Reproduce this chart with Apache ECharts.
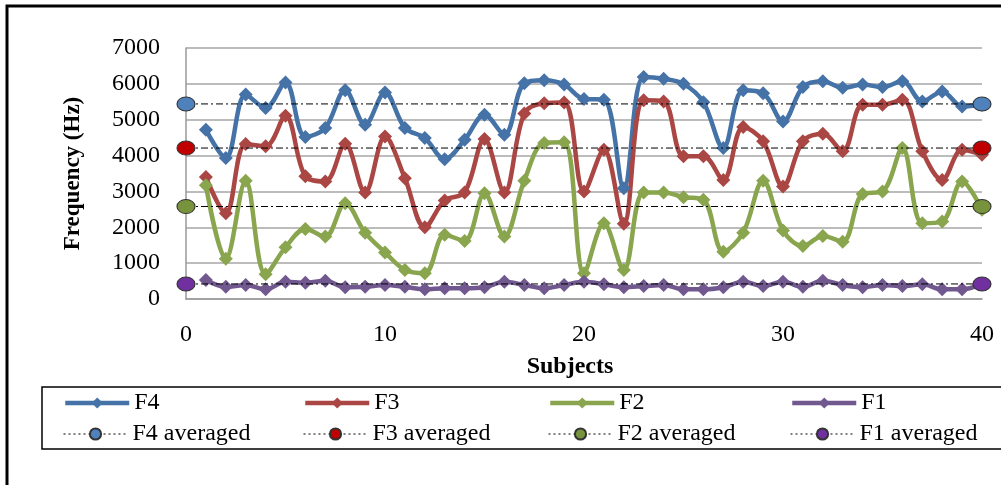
<!DOCTYPE html>
<html>
<head>
<meta charset="utf-8">
<script src="https://cdn.jsdelivr.net/npm/echarts@6/dist/echarts.min.js"></script>
<style>
html,body{margin:0;padding:0;background:#fff;}
#chart{width:1001px;height:485px;}
</style>
</head>
<body>
<div id="chart"></div>
<script>
var subjects = [1,2,3,4,5,6,7,8,9,10,11,12,13,14,15,16,17,18,19,20,21,22,23,24,25,26,27,28,29,30,31,32,33,34,35,36,37,38,39,40];
var f4 = [4720,3930,5700,5330,6040,4520,4770,5820,4860,5760,4770,4490,3900,4440,5140,4580,6020,6100,5980,5580,5560,3090,6190,6140,6000,5490,4210,5820,5740,4950,5910,6070,5890,5980,5910,6070,5510,5790,5370,5420];
var f3 = [3400,2390,4320,4260,5110,3420,3280,4330,2970,4530,3370,2000,2750,2970,4460,2970,5170,5460,5480,3000,4160,2100,5540,5510,3980,3980,3320,4800,4400,3140,4400,4610,4120,5420,5420,5560,4120,3320,4160,4020];
var f2 = [3170,1120,3300,690,1440,1950,1740,2670,1850,1300,810,720,1790,1620,2950,1740,3300,4350,4370,720,2110,810,2970,2970,2840,2770,1320,1850,3300,1910,1480,1760,1600,2930,3000,4210,2110,2160,3280,2490];
var f1 = [530,340,390,270,480,450,510,330,340,390,340,270,300,300,330,480,390,300,390,480,410,330,360,390,270,270,330,480,360,480,340,510,390,330,390,360,410,270,270,420];
var averagedEnds = [0, 40];
var f4Avg = 5440, f3Avg = 4210, f2Avg = 2580, f1Avg = 420;
var yTicks = [0,1000,2000,3000,4000,5000,6000,7000];
var xTicks = [0,10,20,30,40];

var serif = '"Liberation Serif","Times New Roman",serif';
function pairs(vals){ return subjects.map(function(s,i){ return [s, vals[i]]; }); }
function flat(v){ return averagedEnds.map(function(x){ return [x, v]; }); }

function mainSeries(name, color, vals){
  return {
    name: name, type: 'line', data: pairs(vals), smooth: 0.35,
    symbol: 'diamond', symbolSize: 14,
    lineStyle: {color: color, width: 4.5},
    itemStyle: {color: color},
    emphasis: {disabled: true}, z: 2
  };
}
function avgSeries(name, color, v){
  return {
    name: name, type: 'line', data: flat(v),
    symbol: 'circle', symbolSize: [18, 14], showSymbol: true, clip: false,
    lineStyle: {color: '#000', width: 1, type: [7,3,2,3]},
    itemStyle: {color: color, borderColor: '#333', borderWidth: 1},
    emphasis: {disabled: true}, z: 3
  };
}
function leg(name, left, top, main){
  var o = {
    data: [name], left: left, top: top, itemWidth: 64, itemHeight: 14,
    selectedMode: false, padding: 0,
    textStyle: {fontFamily: serif, fontSize: 24, color: '#000'}
  };
  if (main) { o.lineStyle = {width: 4.5}; }
  else { o.lineStyle = {width: 1, type: [2,3]}; }
  return o;
}

var chart = echarts.init(document.getElementById('chart'), null, {renderer: 'canvas'});
chart.setOption({
  animation: false,
  backgroundColor: '#fff',
  graphic: [
    {type: 'rect', shape: {x: 7, y: 6, width: 1010, height: 500}, style: {fill: 'none', stroke: '#000', lineWidth: 3}, z: -10},
    {type: 'rect', shape: {x: 42, y: 387, width: 980, height: 62}, style: {fill: 'none', stroke: '#000', lineWidth: 1.5}, z: -10}
  ],
  grid: {left: 186, right: 19, top: 48, bottom: 186, containLabel: false},
  xAxis: {
    type: 'value', min: 0, max: 40, interval: 10,
    name: 'Subjects', nameLocation: 'middle', nameGap: 56,
    nameTextStyle: {fontFamily: serif, fontSize: 24, fontWeight: 'bold', color: '#000', padding: [0, 28, 0, 0]},
    axisLine: {show: true, onZero: false, lineStyle: {color: '#999', width: 1.5}},
    axisTick: {show: false},
    splitLine: {show: false},
    axisLabel: {fontFamily: serif, fontSize: 24, color: '#000', margin: 24,
      formatter: function(v){ return xTicks.indexOf(v) >= 0 ? String(v) : ''; }}
  },
  yAxis: {
    type: 'value', min: 0, max: 7000, interval: 1000,
    name: 'Frequency (Hz)', nameLocation: 'middle', nameGap: 101,
    nameTextStyle: {fontFamily: serif, fontSize: 23, fontWeight: 'bold', color: '#000'},
    axisLine: {show: true, lineStyle: {color: '#999', width: 1.5}},
    axisTick: {show: false},
    splitLine: {show: true, lineStyle: {color: '#a6a6a6', width: 1.5}},
    axisLabel: {fontFamily: serif, fontSize: 24, color: '#000', margin: 26,
      formatter: function(v){ return yTicks.indexOf(v) >= 0 ? String(v) : ''; }}
  },
  legend: [
    leg('F4', 63, 391, true), leg('F3', 303, 391, true), leg('F2', 548, 391, true), leg('F1', 790, 391, true),
    leg('F4 averaged', 63, 422, false), leg('F3 averaged', 303, 422, false), leg('F2 averaged', 548, 422, false), leg('F1 averaged', 790, 422, false)
  ],
  series: [
    mainSeries('F4', '#4572A7', f4),
    mainSeries('F3', '#AA4643', f3),
    mainSeries('F2', '#89A54E', f2),
    mainSeries('F1', '#71588F', f1),
    avgSeries('F4 averaged', '#4F81BD', f4Avg),
    avgSeries('F3 averaged', '#C00000', f3Avg),
    avgSeries('F2 averaged', '#77933C', f2Avg),
    avgSeries('F1 averaged', '#7030A0', f1Avg)
  ]
});
</script>
</body>
</html>
